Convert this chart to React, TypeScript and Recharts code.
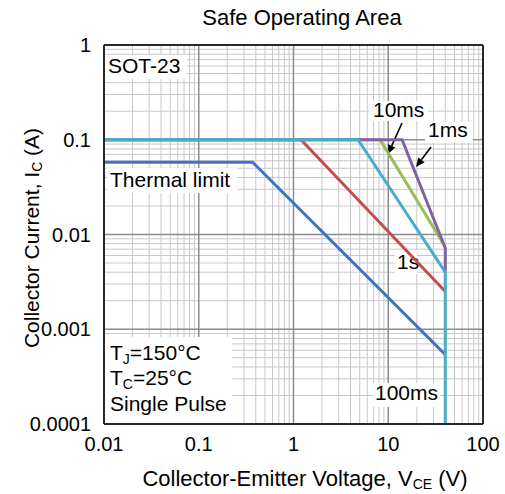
import { LineChart, Line, XAxis, YAxis, CartesianGrid, ReferenceLine } from 'recharts';

const FONT = '"Liberation Sans", Arial, sans-serif';

const xTicks = [0.01, 0.1, 1, 10, 100];
const yTicks = [0.0001, 0.001, 0.01, 0.1, 1];

// corner points of each limit curve (V_CE in volts, I_C in amps)
const thermalV = [0.01, 0.37, 40];
const thermalI = [0.058, 0.058, 0.00054];
const dc1sV = [0.01, 1.2, 40];
const dc1sI = [0.1, 0.1, 0.0025];
const ms10V = [0.01, 8.2, 39];
const ms10I = [0.1, 0.1, 0.0077];
const ms1V = [0.01, 14, 40, 40];
const ms1I = [0.1, 0.1, 0.0072, 0.004];
const ms100V = [0.01, 4.8, 40, 40];
const ms100I = [0.1, 0.1, 0.004, 0.0001];

const toPoints = (v: number[], i: number[]) => v.map((x, k) => ({ v: x, i: i[k] }));

// draw order matters: later ones sit on top
const series = [
  { name: 'thermal', color: '#4472C4', data: toPoints(thermalV, thermalI) },
  { name: '1s', color: '#C0504D', data: toPoints(dc1sV, dc1sI) },
  { name: '10ms', color: '#9BBB59', data: toPoints(ms10V, ms10I) },
  { name: '1ms', color: '#8064A2', data: toPoints(ms1V, ms1I) },
  { name: '100ms', color: '#4BACC6', data: toPoints(ms100V, ms100I) },
];

const minorOf = (decades: number[]) =>
  decades.flatMap((d) => [2, 3, 4, 5, 6, 7, 8, 9].map((m) => +(d * m).toPrecision(3)));
const xMinor = minorOf([0.01, 0.1, 1, 10]);
const yMinor = minorOf([0.0001, 0.001, 0.01, 0.1]);

function Arrow({ x1, y1, x2, y2 }: { x1: number; y1: number; x2: number; y2: number }) {
  const len = Math.hypot(x2 - x1, y2 - y1);
  const ux = (x2 - x1) / len;
  const uy = (y2 - y1) / len;
  const bx = x2 - ux * 9;
  const by = y2 - uy * 9;
  const px = -uy * 4;
  const py = ux * 4;
  return (
    <g>
      <line x1={x1} y1={y1} x2={bx} y2={by} stroke="#000" strokeWidth={1.6} />
      <polygon points={`${x2},${y2} ${bx + px},${by + py} ${bx - px},${by - py}`} fill="#000" />
    </g>
  );
}

const txt = { fontFamily: FONT, fontSize: 21, fill: '#000' };
const big = { ...txt, fontSize: 22 };

export default function App() {
  return (
    <div style={{ position: 'absolute', left: 0, top: 0 }}>
      <LineChart width={505} height={494} margin={{ top: 45, right: 22, bottom: 20, left: 44 }}>
        <CartesianGrid verticalValues={xMinor} horizontalValues={yMinor} stroke="#c8c8c8" strokeWidth={1} />
        <CartesianGrid verticalValues={xTicks} horizontalValues={yTicks} stroke="#8c8c8c" strokeWidth={1.5} />
        <XAxis
          type="number"
          dataKey="v"
          scale="log"
          domain={[0.01, 100]}
          ticks={xTicks}
          interval={0}
          allowDataOverflow
          height={50}
          tickSize={0}
          tickMargin={13}
          axisLine={{ stroke: '#000', strokeWidth: 1.5 }}
          tick={{ fill: '#000', fontSize: 20, fontFamily: FONT }}
        />
        <YAxis
          type="number"
          dataKey="i"
          scale="log"
          domain={[0.0001, 1]}
          ticks={yTicks}
          interval={0}
          allowDataOverflow
          width={60}
          tickSize={0}
          tickMargin={13}
          axisLine={{ stroke: '#000', strokeWidth: 1.5 }}
          tick={{ fill: '#000', fontSize: 20, fontFamily: FONT }}
        />
        <ReferenceLine y={1} stroke="#000" strokeWidth={1.5} />
        <ReferenceLine x={100} stroke="#000" strokeWidth={1.5} />

        {/* annotation boxes */}
        <g>
          <rect x={105} y={55} width={82} height={24} fill="#fff" />
          <text x={108} y={73} {...txt}>SOT-23</text>
          <rect x={107} y={168} width={130} height={25} fill="#fff" />
          <text x={110} y={187} {...txt}>Thermal limit</text>
          <rect x={369} y={101} width={59} height={20} fill="#fff" />
          <text x={373} y={117} {...txt}>10ms</text>
          <rect x={425} y={122} width={48} height={21} fill="#fff" />
          <text x={428} y={137} {...txt}>1ms</text>
          <rect x={395} y={250} width={22} height={24} fill="#fff" />
          <text x={397} y={269} {...txt}>1s</text>
          <rect x={373} y={383} width={67} height={24} fill="#fff" />
          <text x={375} y={400} {...txt}>100ms</text>
          <rect x={105} y={337} width={127} height={86} fill="#fff" />
          <text x={110} y={360} {...txt}>
            T<tspan fontSize={14} dy={4}>J</tspan>
            <tspan dy={-4}>=150°C</tspan>
          </text>
          <text x={110} y={385} {...txt}>
            T<tspan fontSize={14} dy={4}>C</tspan>
            <tspan dy={-4}>=25°C</tspan>
          </text>
          <text x={110} y={411} {...txt}>Single Pulse</text>
        </g>

        {series.map((s) => (
          <Line
            key={s.name}
            data={s.data}
            dataKey="i"
            stroke={s.color}
            strokeWidth={3}
            dot={false}
            isAnimationActive={false}
          />
        ))}

        <Arrow x1={402} y1={123} x2={388} y2={154} />
        <Arrow x1={431} y1={147} x2={416} y2={167} />

        <text x={302} y={25} textAnchor="middle" {...big}>Safe Operating Area</text>
        <text x={305} y={486} textAnchor="middle" {...big}>
          Collector-Emitter Voltage, V<tspan fontSize={14} dy={3}>CE</tspan>
          <tspan dy={-3}> (V)</tspan>
        </text>
        <text x={0} y={0} textAnchor="middle" transform="translate(39 238) rotate(-90)" {...txt}>
          Collector Current, I<tspan fontSize={14} dy={3}>C</tspan>
          <tspan dy={-3}> (A)</tspan>
        </text>
      </LineChart>
    </div>
  );
}
